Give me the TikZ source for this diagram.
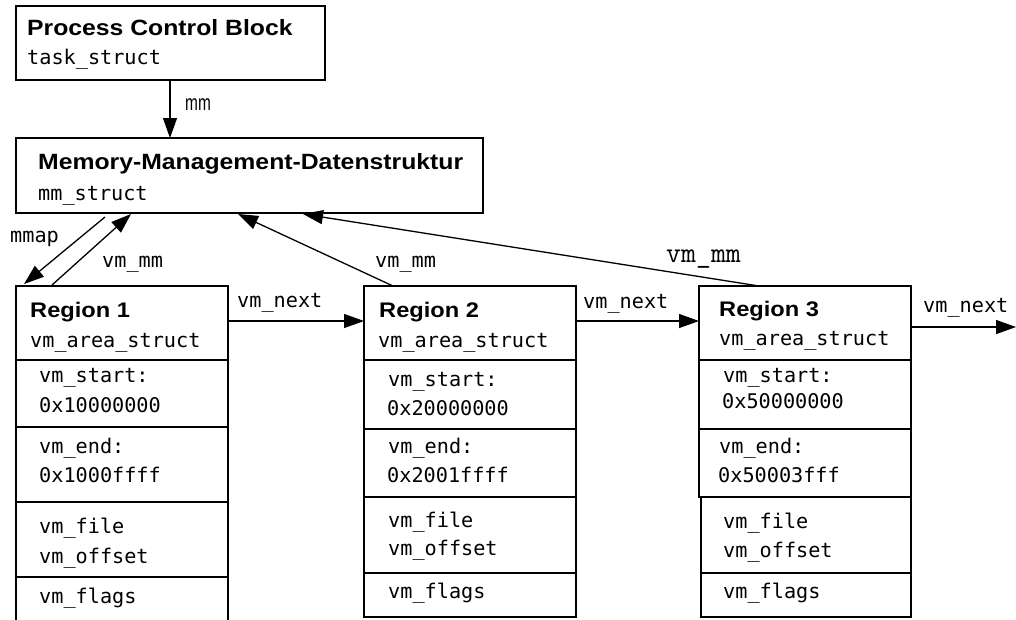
\documentclass[tikz,border=0pt]{standalone}
\usepackage{fontspec}
\setmainfont{Liberation Sans}
\newfontfamily\mono{DejaVu Sans Mono}
\newfontfamily\titlefont[FakeStretch=1.12]{Liberation Sans Bold}
\newfontfamily\narrowfont[FakeStretch=0.7]{Liberation Sans}
\usetikzlibrary{arrows.meta,calc}
\tikzset{
  box/.style={draw, line width=1.8pt, anchor=north west, inner sep=0pt, outer sep=0pt},
  bigtitle/.style={anchor=base west, inner sep=0pt, font=\titlefont\fontsize{22.1}{24}\selectfont},
  regtitle/.style={anchor=base west, inner sep=0pt, font=\titlefont\fontsize{21.1}{24}\selectfont},
  code/.style={anchor=base west, inner sep=0pt, font=\mono\fontsize{20.2}{24}\selectfont},
  bigcode/.style={anchor=base west, inner sep=0pt, font=\ttfamily\fontsize{29}{32}\selectfont},
  narrow/.style={anchor=base west, inner sep=0pt, font=\narrowfont\fontsize{22}{24}\selectfont},
  link/.style={line width=1.3pt, -{Triangle[length=20pt,width=14pt]}},
}
\begin{document}
\begin{tikzpicture}[x=1pt,y=-1pt]
\useasboundingbox (0,0) rectangle (1016,619);

% top boxes
\node[box, minimum width=309pt, minimum height=74pt] (pcb) at (16,6) {};
\node[bigtitle] (pcbt) at (27,35) {Process Control Block};
\node[code] (pcbc) at (27,64) {task\_struct};

\node[box, minimum width=467pt, minimum height=75pt] (mms) at (16,138) {};
\node[bigtitle] (mmst) at (38,169) {Memory-Management-Datenstruktur};
\node[code] (mmsc) at (38,200) {mm\_struct};

% Region 1
\node[box, minimum width=212pt, minimum height=74pt] (r1h) at (16,286) {};
\node[box, minimum width=212pt, minimum height=67pt] (r1a) at (16,360) {};
\node[box, minimum width=212pt, minimum height=75pt] (r1b) at (16,427) {};
\node[box, minimum width=212pt, minimum height=75pt] (r1c) at (16,502) {};
\node[box, minimum width=212pt, minimum height=63pt] (r1d) at (16,577) {};
\node[regtitle] (r1t) at (30,317) {Region 1};
\node[code] (r1s) at (30,347) {vm\_area\_struct};
\node[code] (r1a1) at (39,382) {vm\_start:};
\node[code] (r1a2) at (39,412) {0x10000000};
\node[code] (r1b1) at (39,453) {vm\_end:};
\node[code] (r1b2) at (39,482) {0x1000ffff};
\node[code] (r1c1) at (39,533) {vm\_file};
\node[code] (r1c2) at (39,563) {vm\_offset};
\node[code] (r1d1) at (39,603) {vm\_flags};

% Region 2
\node[box, minimum width=212pt, minimum height=74pt] (r2h) at (364,286) {};
\node[box, minimum width=212pt, minimum height=69pt] (r2a) at (364,360) {};
\node[box, minimum width=212pt, minimum height=68pt] (r2b) at (364,429) {};
\node[box, minimum width=212pt, minimum height=76pt] (r2c) at (364,497) {};
\node[box, minimum width=212pt, minimum height=44pt] (r2d) at (364,573) {};
\node[regtitle] (r2t) at (379,317) {Region 2};
\node[code] (r2s) at (378,347) {vm\_area\_struct};
\node[code] (r2a1) at (388,386) {vm\_start:};
\node[code] (r2a2) at (387,415) {0x20000000};
\node[code] (r2b1) at (388,453) {vm\_end:};
\node[code] (r2b2) at (387,482) {0x2001ffff};
\node[code] (r2c1) at (388,527) {vm\_file};
\node[code] (r2c2) at (388,555) {vm\_offset};
\node[code] (r2d1) at (388,598) {vm\_flags};

% Region 3
\node[box, minimum width=212pt, minimum height=74pt] (r3h) at (699,286) {};
\node[box, minimum width=212pt, minimum height=69pt] (r3a) at (699,360) {};
\node[box, minimum width=212pt, minimum height=68pt] (r3b) at (699,429) {};
\node[box, minimum width=210pt, minimum height=76pt] (r3c) at (701,497) {};
\node[box, minimum width=210pt, minimum height=44pt] (r3d) at (701,573) {};
\node[regtitle] (r3t) at (719,316) {Region 3};
\node[code] (r3s) at (719,345) {vm\_area\_struct};
\node[code] (r3a1) at (723,382) {vm\_start:};
\node[code] (r3a2) at (722,408) {0x50000000};
\node[code] (r3b1) at (719,453) {vm\_end:};
\node[code] (r3b2) at (718,482) {0x50003fff};
\node[code] (r3c1) at (723,528) {vm\_file};
\node[code] (r3c2) at (723,557) {vm\_offset};
\node[code] (r3d1) at (723,598) {vm\_flags};

% connectors
\draw[link] ($(pcb.south west)+(154,0)$) -- ($(mms.north west)+(154,0)$);
\node[narrow] (lmm) at (185,110) {mm};

\draw[link] ($(mms.south west)+(89,4)$) -- ($(r1h.north west)+(8,-2)$);
\node[code] (lmmap) at (10,242) {mmap};

\draw[link] ($(r1h.north west)+(36,-1)$) -- ($(mms.south west)+(115,1)$);
\node[code] (lvm1) at (102,267) {vm\_mm};

\draw[link] ($(r2h.north west)+(29,0)$) -- ($(mms.south west)+(222,1)$);
\node[code] (lvm2) at (375,267) {vm\_mm};

\draw[link] ($(r3h.north west)+(60,0)$) -- ($(mms.south west)+(287,1)$);
\node[bigcode] (lvm3) at (666,262) {vm\_mm};

\draw[link] ($(r1h.north east)+(0,35)$) -- ($(r2h.north west)+(0,35)$);
\node[code] (ln1) at (237,307) {vm\_next};
\draw[link] ($(r2h.north east)+(0,35)$) -- ($(r3h.north west)+(0,35)$);
\node[code] (ln2) at (583,308) {vm\_next};
\coordinate (nxt) at (1016,327);
\draw[link] ($(r3h.north east)+(0,41)$) -- (nxt);
\node[code] (ln3) at (923,312) {vm\_next};
\end{tikzpicture}
\end{document}
